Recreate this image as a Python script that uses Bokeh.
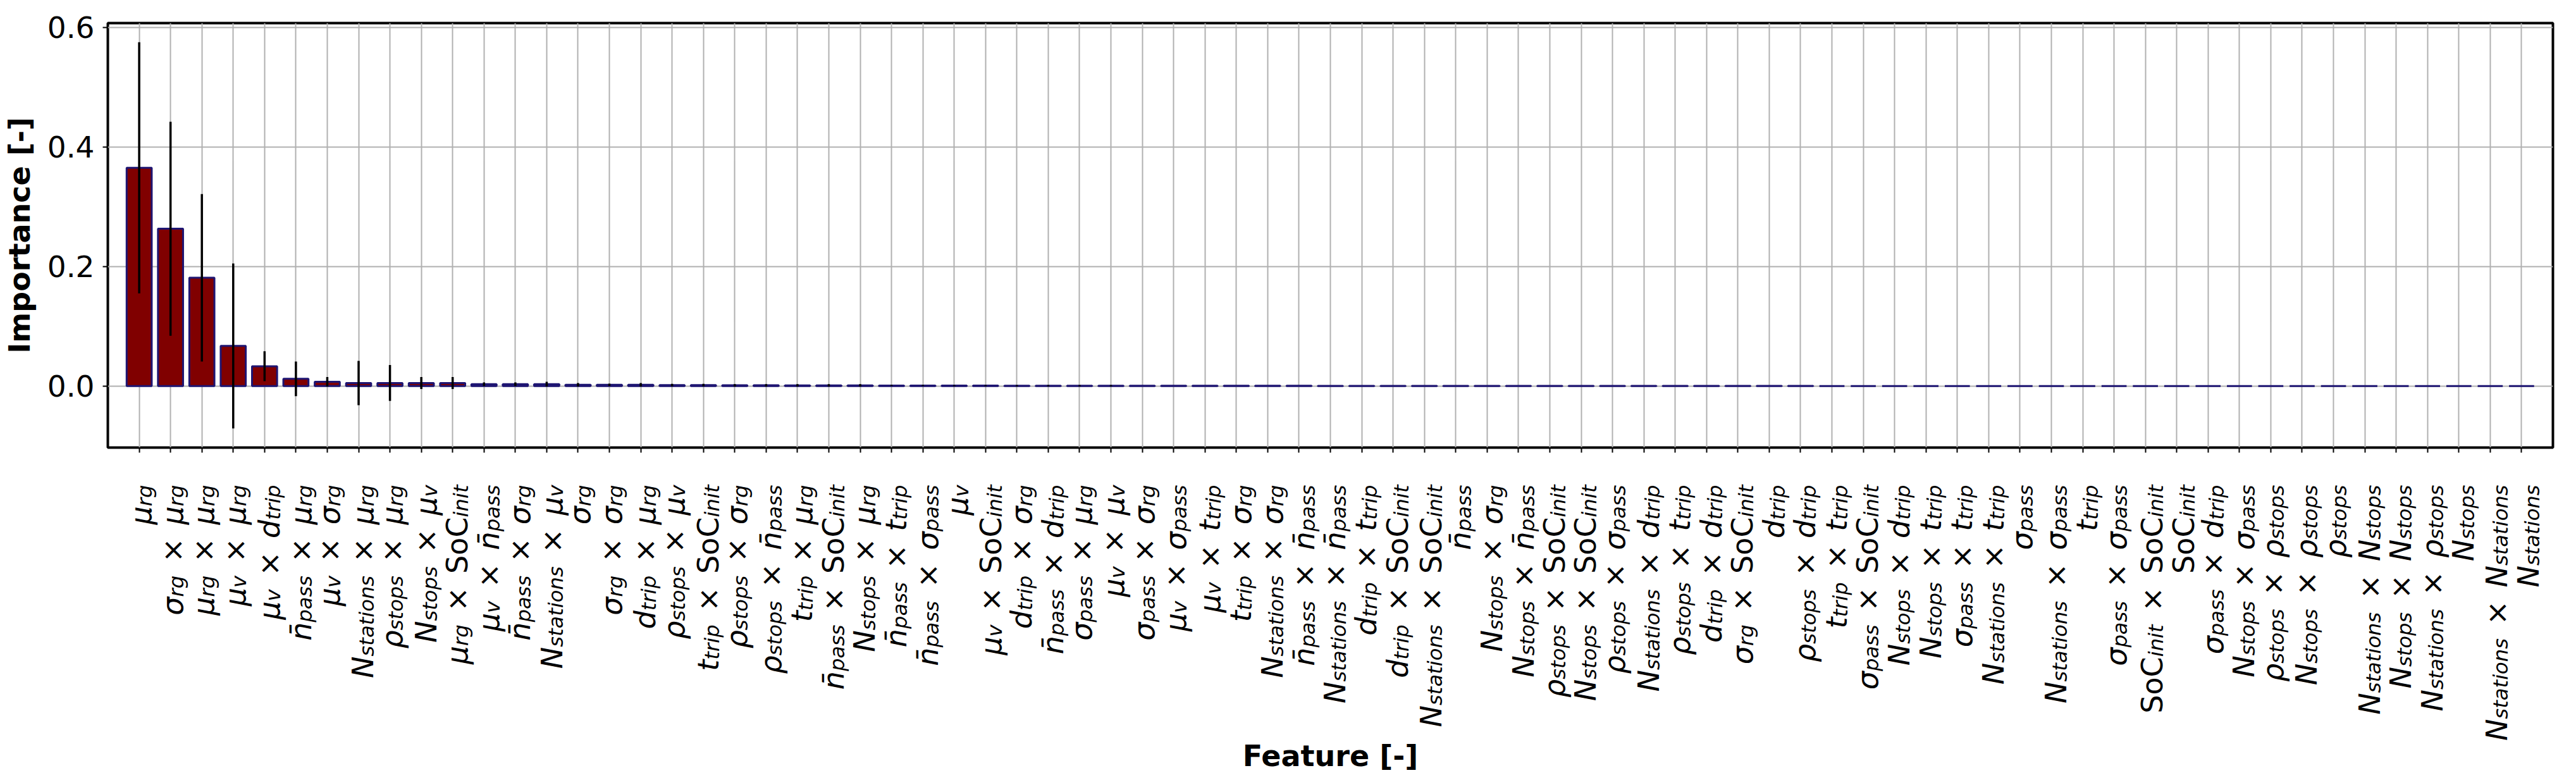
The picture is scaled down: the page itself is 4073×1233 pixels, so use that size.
import math
from bokeh.plotting import figure
from bokeh.layouts import column
from bokeh.models import ColumnDataSource, FixedTicker, Range1d, NumeralTickFormatter
from bokeh.core.properties import value
from bokeh.embed import file_html
from bokeh.resources import INLINE

# ---------------- data ----------------
features = [
    "μ_rg", "σ_rg × μ_rg", "μ_rg × μ_rg", "μ_v × μ_rg", "μ_v × d_trip", "n̄_pass × μ_rg", "μ_v × σ_rg", "N_stations × μ_rg",
    "ρ_stops × μ_rg", "N_stops × μ_v", "μ_rg × SoC_init", "μ_v × n̄_pass", "n̄_pass × σ_rg", "N_stations × μ_v", "σ_rg", "σ_rg × σ_rg",
    "d_trip × μ_rg", "ρ_stops × μ_v", "t_trip × SoC_init", "ρ_stops × σ_rg", "ρ_stops × n̄_pass", "t_trip × μ_rg", "n̄_pass × SoC_init", "N_stops × μ_rg",
    "n̄_pass × t_trip", "n̄_pass × σ_pass", "μ_v", "μ_v × SoC_init", "d_trip × σ_rg", "n̄_pass × d_trip", "σ_pass × μ_rg", "μ_v × μ_v",
    "σ_pass × σ_rg", "μ_v × σ_pass", "μ_v × t_trip", "t_trip × σ_rg", "N_stations × σ_rg", "n̄_pass × n̄_pass", "N_stations × n̄_pass", "d_trip × t_trip",
    "d_trip × SoC_init", "N_stations × SoC_init", "n̄_pass", "N_stops × σ_rg", "N_stops × n̄_pass", "ρ_stops × SoC_init", "N_stops × SoC_init", "ρ_stops × σ_pass",
    "N_stations × d_trip", "ρ_stops × t_trip", "d_trip × d_trip", "σ_rg × SoC_init", "d_trip", "ρ_stops × d_trip", "t_trip × t_trip", "σ_pass × SoC_init",
    "N_stops × d_trip", "N_stops × t_trip", "σ_pass × t_trip", "N_stations × t_trip", "σ_pass", "N_stations × σ_pass", "t_trip", "σ_pass × σ_pass",
    "SoC_init × SoC_init", "SoC_init", "σ_pass × d_trip", "N_stops × σ_pass", "ρ_stops × ρ_stops", "N_stops × ρ_stops", "ρ_stops", "N_stations × N_stops",
    "N_stops × N_stops", "N_stations × ρ_stops", "N_stops", "N_stations × N_stations", "N_stations",
]

importance = [
    0.365, 0.263, 0.181, 0.067, 0.033, 0.012, 0.007, 0.005,
    0.005, 0.005, 0.005, 0.003, 0.003, 0.003, 0.002, 0.002,
    0.002, 0.0015, 0.0015, 0.0012, 0.0012, 0.001, 0.001, 0.001,
    0.0008, 0.0008, 0.0006, 0.0006, 0.0005, 0.0005, 0.0005, 0.0004,
    0.0004, 0.0004, 0.0003, 0.0003, 0.0003, 0.0003, 0.0002, 0.0002,
    0.0002, 0.0002, 0.0002, 0.0002, 0.0001, 0.0001, 0.0001, 0.0001,
    0.0001, 0.0001, 0.0001, 0.0001, 0.0001, 0.0001, 0.0, 0.0,
    0.0, 0.0, 0.0, 0.0, 0.0, 0.0, 0.0, 0.0,
    0.0, 0.0, 0.0, 0.0, 0.0, 0.0, 0.0, 0.0,
    0.0, 0.0, 0.0, 0.0, 0.0,
]

importance_std = [
    0.210, 0.179, 0.140, 0.138, 0.025, 0.029, 0.008, 0.037,
    0.030, 0.010, 0.010, 0.003, 0.003, 0.004, 0.003, 0.002,
    0.003, 0.002, 0.002, 0.002, 0.002, 0.002, 0.002, 0.002,
    0.001, 0.001, 0.001, 0.001, 0.001, 0.001, 0.001, 0.001,
    0.0, 0.0, 0.0, 0.0, 0.0, 0.0, 0.0, 0.0,
    0.0, 0.0, 0.0, 0.0, 0.0, 0.0, 0.0, 0.0,
    0.0, 0.0, 0.0, 0.0, 0.0, 0.0, 0.0, 0.0,
    0.0, 0.0, 0.0, 0.0, 0.0, 0.0, 0.0, 0.0,
    0.0, 0.0, 0.0, 0.0, 0.0, 0.0, 0.0, 0.0,
    0.0, 0.0, 0.0, 0.0, 0.0,
]

y_ticks = [0.0, 0.2, 0.4, 0.6]
x_label = "Feature [-]"
y_label = "Importance [-]"

# ---------------- layout constants ----------------
W_TOTAL = 4057
BL, BR = 169, 21           # left/right borders (frame 177..4044 on page)
TOP1, FRAME_H, BOT1 = 36, 671, 16
H1 = TOP1 + FRAME_H + BOT1  # main figure height
H2 = 1217 - H1              # label strip height
X0, X1 = -1.0, 77.0
Y0, Y1 = -0.103, 0.607
PXU = (W_TOTAL - BL - BR) / (X1 - X0)   # pixels per category

# ---------------- main figure ----------------
xr = Range1d(X0, X1)
p = figure(width=W_TOTAL, height=H1, output_backend="svg", toolbar_location=None,
           x_range=xr, y_range=Range1d(Y0, Y1),
           min_border_left=BL, min_border_right=BR, min_border_top=TOP1, min_border_bottom=BOT1)
p.background_fill_color = "white"
p.border_fill_color = "white"
p.outline_line_color = "black"
p.outline_line_width = 4

idx = list(range(len(features)))
src = ColumnDataSource(dict(x=idx, top=importance,
                            lo=[v - s for v, s in zip(importance, importance_std)],
                            hi=[v + s for v, s in zip(importance, importance_std)]))

p.vbar(x="x", top="top", bottom=0, width=0.8, source=src,
       fill_color="#800000", line_color="#1e1572", line_width=3)
p.segment(x0="x", y0="lo", x1="x", y1="hi", source=src, line_color="black", line_width=3.5)

p.xaxis.ticker = FixedTicker(ticks=idx)
p.yaxis.ticker = FixedTicker(ticks=y_ticks)
p.yaxis.formatter = NumeralTickFormatter(format="0.0")
for ax in (p.xaxis[0], p.yaxis[0]):
    ax.axis_line_color = None
    ax.major_tick_line_color = "black"
    ax.major_tick_line_width = 2
    ax.major_tick_out = 8
    ax.major_tick_in = 0
    ax.minor_tick_line_color = None
p.xaxis.major_label_text_font_size = "1px"
p.xaxis.major_label_text_color = None
p.yaxis.major_label_text_font = "DejaVu Sans"
p.yaxis.major_label_text_font_size = "47px"
p.yaxis.major_label_text_color = "black"
p.yaxis.major_label_standoff = 13
p.yaxis.axis_label = y_label
p.yaxis.axis_label_standoff = 14
p.yaxis.axis_label_text_font = "DejaVu Sans"
p.yaxis.axis_label_text_font_style = "bold"
p.yaxis.axis_label_text_font_size = "46px"
p.yaxis.axis_label_text_color = "black"

p.xgrid.ticker = FixedTicker(ticks=idx)
p.xgrid.grid_line_color = "#b0b0b0"
p.xgrid.grid_line_width = 2
p.ygrid.grid_line_color = "#b0b0b0"
p.ygrid.grid_line_width = 2

# ---------------- label strip (y in pixels, 0 = top of strip, downward negative) ----------------
p2 = figure(width=W_TOTAL, height=H2, output_backend="svg", toolbar_location=None,
            x_range=xr, y_range=Range1d(-H2, 0),
            min_border_left=BL, min_border_right=BR, min_border_top=0, min_border_bottom=0)
p2.axis.visible = False
p2.grid.visible = False
p2.outline_line_color = None
p2.background_fill_color = "white"
p2.border_fill_color = "white"

F = 46.0          # main font size (px)
SF = 0.7 * F      # subscript size
SUB_SHIFT = 6.0   # subscript baseline shift (px)
PAD = 27.0        # gap between frame bottom and end of label (px)
TIMES_GAP = 0.456 # em gap on each side of ×
FRAME_BOTTOM_IN_STRIP = -BOT1   # frame bottom lies BOT1 px above strip top

W = {' ': 0.318, 'a': 0.613, 'c': 0.550, 'd': 0.635, 'e': 0.615, 'g': 0.635, 'i': 0.278,
     'n': 0.634, 'o': 0.612, 'p': 0.635, 'r': 0.411, 's': 0.521, 't': 0.392, 'v': 0.592,
     'C': 0.698, 'N': 0.748, 'S': 0.635, '×': 0.838, 'μ': 0.636, 'σ': 0.634, 'ρ': 0.635,
     '\u0304': 0.0}


def width(s, size):
    return sum(W.get(c, 0.6) for c in s) * size


groups = {"it": dict(x=[], y=[], text=[]), "up": dict(x=[], y=[], text=[]), "sub": dict(x=[], y=[], text=[])}

for i, feat in enumerate(features):
    terms = feat.split(" × ")
    segs = []
    pos = 0.0
    asc, desc = 0.0, 0.0
    for k, term in enumerate(terms):
        if k > 0:
            pos += TIMES_GAP * F
            w = width("×", F)
            segs.append(("×", "up", pos, w))
            pos += w + TIMES_GAP * F
        base, sub = term.split("_")
        base = base.replace("n̄", "n\u0304")
        kind = "up" if base == "SoC" else "it"
        w = width(base, F)
        segs.append((base, kind, pos, w))
        pos += w
        if base in ("μ", "σ", "ρ"):
            a = 0.55 * F
        elif base == "n\u0304":
            a = 0.74 * F
        else:
            a = 0.73 * F
        asc = max(asc, a)
        if base in ("μ", "ρ"):
            desc = max(desc, 0.21 * F)
        w = width(sub, SF)
        segs.append((sub, "sub", pos, w))
        pos += w
        sa = (0.73 if any(c in sub for c in "tid") else 0.55) * SF - SUB_SHIFT
        asc = max(asc, sa)
        sd = SUB_SHIFT + (0.21 * SF if any(c in sub for c in "gp") else 0.0)
        desc = max(desc, sd)
    total = pos
    base_off = (asc - desc) / 2.0 - 3.0
    for text, kind, start, w in segs:
        g = groups[kind]
        xoff = base_off + (SUB_SHIFT if kind == "sub" else 0.0)
        g["x"].append(i + xoff / PXU)
        g["y"].append(FRAME_BOTTOM_IN_STRIP - (PAD + total - start - w))
        g["text"].append(text)

for kind, size, style in (("it", F, "italic"), ("up", F, "normal"), ("sub", SF, "italic")):
    p2.text(x="x", y="y", text="text", source=ColumnDataSource(groups[kind]),
            angle=math.pi / 2, text_align="right", text_baseline="alphabetic",
            text_font=value("DejaVu Sans"), text_font_style=style,
            text_font_size=f"{size:.1f}px", text_color="black")

# x-axis title in the strip
title_src = ColumnDataSource(dict(x=[(X0 + X1) / 2.0], y=[-(1202 - (8 + H1))], text=[x_label]))
p2.text(x="x", y="y", text="text", source=title_src, text_align="center", text_baseline="alphabetic",
        text_font=value("DejaVu Sans"), text_font_style="bold", text_font_size="46px", text_color="black")

layout = column(p, p2, spacing=0)
open("out.html", "w").write(file_html(layout, INLINE))
